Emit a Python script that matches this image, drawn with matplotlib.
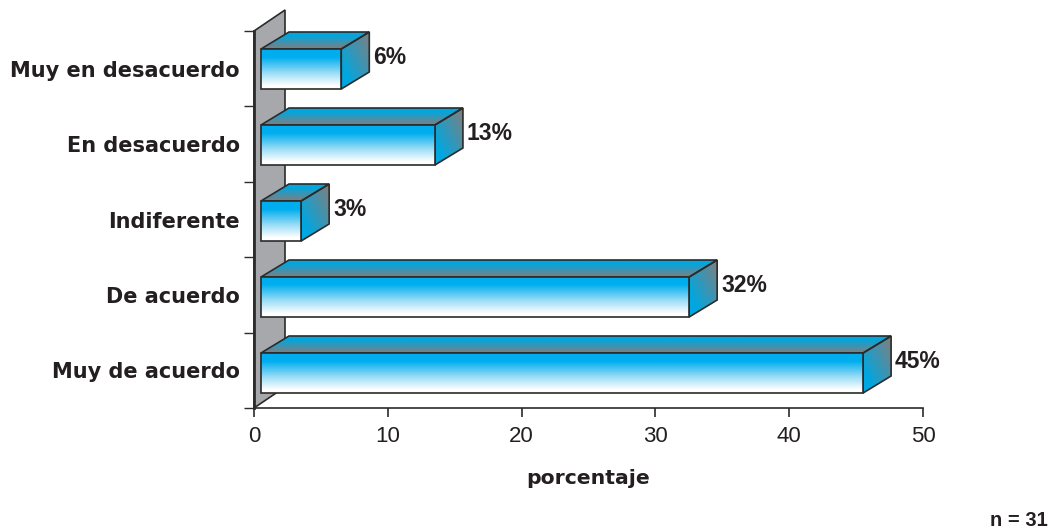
import numpy as np
import matplotlib
matplotlib.use("Agg")
import matplotlib.pyplot as plt
from matplotlib.colors import LinearSegmentedColormap
from matplotlib.patches import Polygon

plt.rcParams['font.family'] = ['Liberation Sans', 'DejaVu Sans']

# survey answers, bottom bar first
categories = ["Muy de acuerdo", "De acuerdo", "Indiferente", "En desacuerdo", "Muy en desacuerdo"]
values = [45, 32, 3, 13, 6]
x_ticks = [0, 10, 20, 30, 40, 50]

W, H = 1056, 531
fig = plt.figure(figsize=(W / 100, H / 100), dpi=100)
ax = fig.add_axes([254 / W, 1 - 408 / H, (923 - 254) / W, (408 - 31) / H])
ax.set_xlim(0, 50)
ax.set_ylim(0, 5)

# pixel sizes turned into data units for the fake 3d
ux = 50 / (923 - 254)
uy = 5 / (408 - 31)
dx, dy = 28 * ux, 17 * uy
x0 = 7 * ux
bar_h = 40 * uy
pitch = 76 * uy

blue = "#00AEEF"
blue2 = "#00A7E0"
gray = "#7F7F7F"
edge = "#2B2B2B"
text_col = "#231F20"
front_cmap = LinearSegmentedColormap.from_list(
    "front", [(0, blue), (0.2, blue), (0.6, "#9BDDF6"), (0.92, "#FFFFFF"), (1, "#FFFFFF")])
face_cmap = LinearSegmentedColormap.from_list("face", [(0, blue2), (0.2, blue2), (1, gray)])


def shade(poly, grad, cmap, zorder):
    # gradient image clipped to a polygon
    xs = [p[0] for p in poly]
    ys = [p[1] for p in poly]
    im = ax.imshow(grad, cmap=cmap, vmin=0, vmax=1, aspect="auto", zorder=zorder,
                   extent=[min(xs), max(xs), min(ys), max(ys)], interpolation="bilinear")
    patch = Polygon(poly, closed=True, fc="none", ec=edge, lw=1.2, zorder=zorder + 0.1, clip_on=False)
    ax.add_patch(patch)
    im.set_clip_path(patch)


# back wall
wall = [(0, 0), (31 * ux, 21 * uy), (31 * ux, 398 * uy), (0, 377 * uy)]
ax.add_patch(Polygon(wall, closed=True, fc="#A6A8AB", ec=edge, lw=1.2, zorder=1, clip_on=False))

vertical = np.linspace(0, 1, 64).reshape(-1, 1)
g1, g2 = np.meshgrid(np.linspace(0, 1, 32), np.linspace(0, 1, 32))
diagonal = 1 - (g2 * 0.5 + (1 - g1) * 0.5)

for i, (cat, v) in enumerate(zip(categories, values)):
    bottom = 15 * uy + i * pitch
    top = bottom + bar_h
    right = x0 + v
    order = 3 + i * 0.01

    shade([(x0, top), (right, top), (right + dx, top + dy), (x0 + dx, top + dy)], vertical, face_cmap, order)
    shade([(right, bottom), (right + dx, bottom + dy), (right + dx, top + dy), (right, top)],
          diagonal, face_cmap, order)
    shade([(x0, bottom), (right, bottom), (right, top), (x0, top)], vertical, front_cmap, order + 0.2)

    ax.text(right + dx + 4 * ux, top - 8 * uy, f"{v}%", ha="left", va="center",
            fontsize=16.5, fontweight="bold", color=text_col, zorder=6)

ax.set_xlim(0, 50)
ax.set_ylim(0, 5)
ax.patch.set_visible(False)

for side in ["top", "right"]:
    ax.spines[side].set_visible(False)
ax.spines["left"].set_linewidth(2)
ax.spines["bottom"].set_linewidth(1.2)
ax.spines["left"].set_color(edge)
ax.spines["bottom"].set_color(edge)
ax.spines["left"].set_zorder(2)
ax.spines["bottom"].set_zorder(2)

ax.set_xticks(x_ticks)
ax.set_xticklabels([str(t) for t in x_ticks])
ax.tick_params(axis="x", length=6.5, width=1.2, color=edge, labelsize=16, labelcolor=text_col, pad=6.5)

ax.set_yticks(np.arange(5) + 0.5)
ax.set_yticklabels(categories, fontsize=15, fontweight="bold", color=text_col, family="DejaVu Sans")
ax.tick_params(axis="y", which="major", length=0, pad=10)
ax.set_yticks(np.arange(6), minor=True)
ax.tick_params(axis="y", which="minor", length=7, width=1, color=edge)

fig.text(588 / W, 1 - 479 / H, "porcentaje", ha="center", va="center",
         fontsize=14.7, fontweight="bold", color=text_col, family="DejaVu Sans")
fig.text(1048 / W, 1 - 520 / H, "n = 31", ha="right", va="center",
         fontsize=14.5, fontweight="bold", color=text_col)

fig.savefig("out.png", dpi=100)
